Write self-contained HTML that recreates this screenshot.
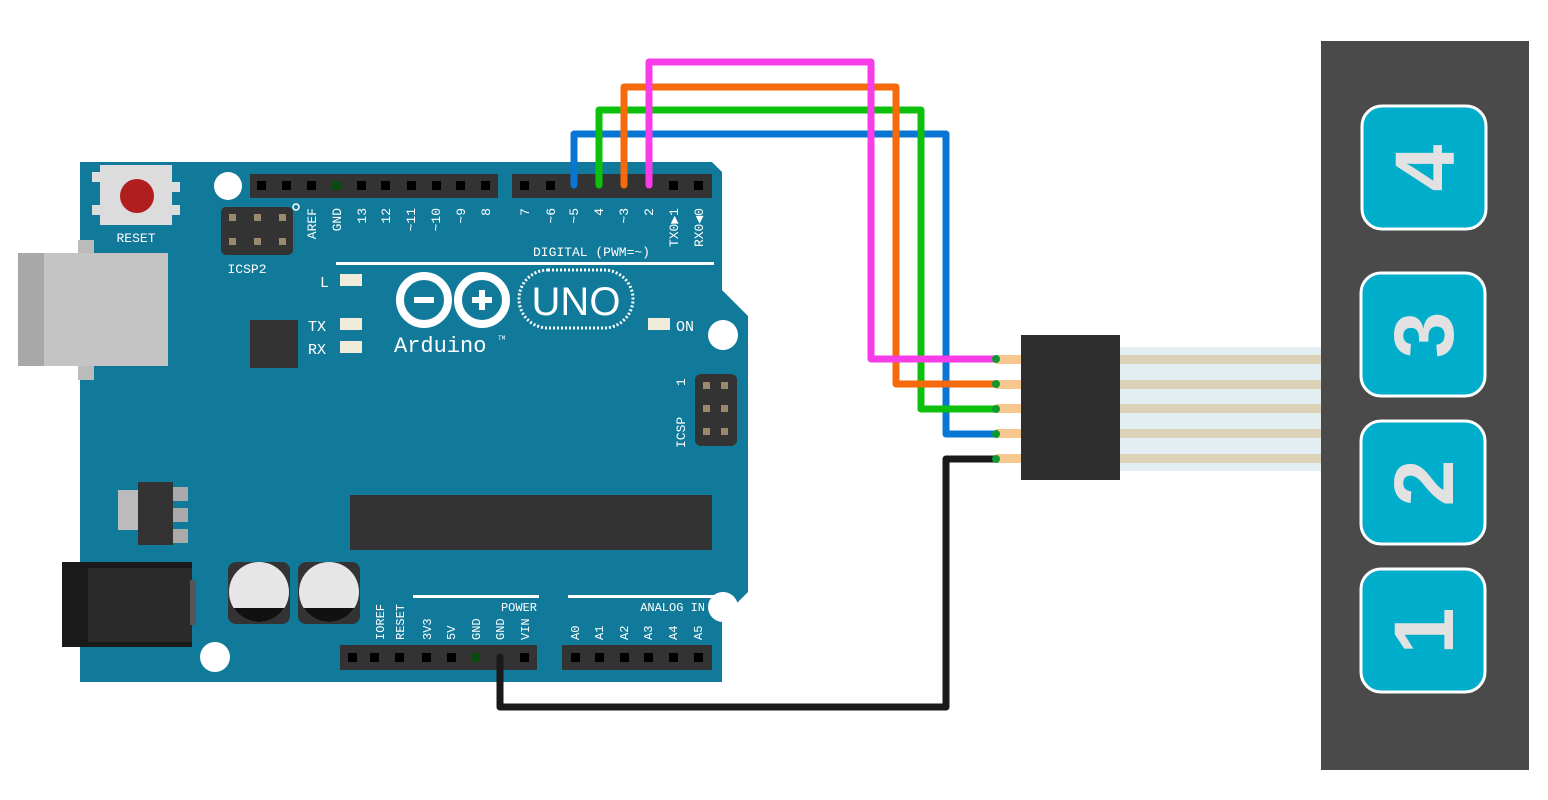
<!DOCTYPE html>
<html><head><meta charset="utf-8"><style>html,body{margin:0;padding:0;background:#fff}svg{display:block}</style></head>
<body>
<svg width="1548" height="800" viewBox="0 0 1548 800" xmlns="http://www.w3.org/2000/svg" font-family="Liberation Mono, DejaVu Sans Mono, monospace">
<rect width="1548" height="800" fill="#fff"/>
<path d="M80,162 L712,162 L722,172 L722,290 L748,316 L748,592 L722,618 L722,682 L80,682 Z" fill="#117a9a"/>
<circle cx="228" cy="186" r="14" fill="#fff"/>
<circle cx="723" cy="335" r="15" fill="#fff"/>
<circle cx="723" cy="607" r="15" fill="#fff"/>
<circle cx="215" cy="657" r="15" fill="#fff"/>
<rect x="78" y="240" width="16" height="140" fill="#bbb"/>
<rect x="18" y="253" width="150" height="113" fill="#c4c4c4"/>
<rect x="18" y="253" width="26" height="113" fill="#a8a8a8"/>
<rect x="92" y="172" width="8" height="10" fill="#ddd"/><rect x="172" y="182" width="8" height="10" fill="#ddd"/>
<rect x="92" y="205" width="8" height="10" fill="#ddd"/><rect x="172" y="205" width="8" height="10" fill="#ddd"/>
<rect x="100" y="165" width="72" height="60" fill="#dcdcdc"/>
<circle cx="137" cy="196" r="17" fill="#b01e1e"/>
<text x="136" y="242" fill="#fff" font-size="13" text-anchor="middle">RESET</text>
<rect x="221" y="207" width="72" height="48" rx="5" fill="#333"/>
<g fill="#9a8a6a"><rect x="229" y="214" width="7" height="7"/><rect x="254" y="214" width="7" height="7"/><rect x="279" y="214" width="7" height="7"/><rect x="229" y="238" width="7" height="7"/><rect x="254" y="238" width="7" height="7"/><rect x="279" y="238" width="7" height="7"/></g>
<circle cx="296" cy="207" r="3" fill="none" stroke="#fff" stroke-width="1.5"/>
<text x="247" y="273" fill="#fff" font-size="13" text-anchor="middle">ICSP2</text>
<rect x="250" y="174" width="248" height="24" fill="#333"/>
<rect x="512" y="174" width="200" height="24" fill="#333"/>
<g fill="#000">
<rect x="257" y="181" width="9" height="9"/><rect x="282" y="181" width="9" height="9"/><rect x="307" y="181" width="9" height="9"/><rect x="357" y="181" width="9" height="9"/><rect x="381" y="181" width="9" height="9"/><rect x="407" y="181" width="9" height="9"/><rect x="432" y="181" width="9" height="9"/><rect x="456" y="181" width="9" height="9"/><rect x="481" y="181" width="9" height="9"/>
<rect x="520" y="181" width="9" height="9"/><rect x="546" y="181" width="9" height="9"/><rect x="669" y="181" width="9" height="9"/><rect x="694" y="181" width="9" height="9"/>
</g>
<rect x="332" y="181" width="9" height="9" fill="#0a4a10"/>
<g fill="#fff" font-size="13">
<text transform="translate(316,208) rotate(-90)" text-anchor="end">AREF</text>
<text transform="translate(341,208) rotate(-90)" text-anchor="end">GND</text>
<text transform="translate(366,208) rotate(-90)" text-anchor="end">13</text>
<text transform="translate(390,208) rotate(-90)" text-anchor="end">12</text>
<text transform="translate(415,208) rotate(-90)" text-anchor="end">~11</text>
<text transform="translate(440,208) rotate(-90)" text-anchor="end">~10</text>
<text transform="translate(465,208) rotate(-90)" text-anchor="end">~9</text>
<text transform="translate(490,208) rotate(-90)" text-anchor="end">8</text>
<text transform="translate(529,208) rotate(-90)" text-anchor="end">7</text>
<text transform="translate(555,208) rotate(-90)" text-anchor="end">~6</text>
<text transform="translate(578,208) rotate(-90)" text-anchor="end">~5</text>
<text transform="translate(603,208) rotate(-90)" text-anchor="end">4</text>
<text transform="translate(628,208) rotate(-90)" text-anchor="end">~3</text>
<text transform="translate(653,208) rotate(-90)" text-anchor="end">2</text>
<text transform="translate(678,208) rotate(-90)" text-anchor="end">TX0▶1</text>
<text transform="translate(703,208) rotate(-90)" text-anchor="end">RX0◀0</text>
<text x="650" y="256" text-anchor="end">DIGITAL (PWM=~)</text>
</g>
<rect x="336" y="262" width="378" height="3" fill="#fff"/>
<g font-size="15" fill="#fff">
<text x="320" y="287">L</text><text x="308" y="331">TX</text><text x="308" y="354">RX</text><text x="676" y="331">ON</text>
</g>
<g fill="#f0ead8"><rect x="340" y="274" width="22" height="12"/><rect x="340" y="318" width="22" height="12"/><rect x="340" y="341" width="22" height="12"/><rect x="648" y="318" width="22" height="12"/></g>
<circle cx="424" cy="300" r="24" fill="none" stroke="#fff" stroke-width="8"/>
<circle cx="482" cy="300" r="24" fill="none" stroke="#fff" stroke-width="8"/>
<rect x="414" y="297" width="20" height="6" fill="#fff"/>
<rect x="472" y="297" width="20" height="6" fill="#fff"/><rect x="479" y="290" width="6" height="20" fill="#fff"/>
<rect x="519" y="270" width="114" height="58" rx="29" fill="none" stroke="#fff" stroke-width="3" stroke-dasharray="2 2"/>
<text x="576" y="315" font-family="Liberation Sans, sans-serif" font-size="40" fill="#fff" text-anchor="middle">UNO</text>
<text x="394" y="352" font-size="22" fill="#fff">Arduino</text>
<text x="498" y="340" font-size="6" fill="#fff">TM</text>
<rect x="250" y="320" width="48" height="48" fill="#333"/>
<rect x="695" y="374" width="42" height="72" rx="6" fill="#333"/>
<g fill="#9a8a6a"><rect x="703" y="382" width="7" height="7"/><rect x="721" y="382" width="7" height="7"/><rect x="703" y="405" width="7" height="7"/><rect x="721" y="405" width="7" height="7"/><rect x="703" y="428" width="7" height="7"/><rect x="721" y="428" width="7" height="7"/></g>
<text transform="translate(685,448) rotate(-90)" font-size="13" fill="#fff">ICSP</text>
<text transform="translate(685,386) rotate(-90)" font-size="13" fill="#fff">1</text>
<rect x="118" y="490" width="22" height="40" fill="#bbb"/>
<rect x="170" y="487" width="18" height="14" fill="#aaa"/><rect x="170" y="508" width="18" height="14" fill="#aaa"/><rect x="170" y="529" width="18" height="14" fill="#aaa"/>
<rect x="138" y="482" width="35" height="63" fill="#333"/>
<rect x="350" y="495" width="362" height="55" fill="#333"/>
<rect x="62" y="562" width="130" height="85" fill="#1a1a1a"/>
<rect x="88" y="568" width="104" height="74" fill="#2a2a2a"/>
<rect x="190" y="580" width="6" height="45" fill="#555"/>
<rect x="228" y="562" width="62" height="62" rx="8" fill="#333"/>
<rect x="298" y="562" width="62" height="62" rx="8" fill="#333"/>
<clipPath id="c1"><circle cx="259" cy="592" r="30"/></clipPath>
<clipPath id="c2"><circle cx="329" cy="592" r="30"/></clipPath>
<circle cx="259" cy="592" r="30" fill="#e6e6e6"/><rect x="228" y="608" width="62" height="20" fill="#111" clip-path="url(#c1)"/>
<circle cx="329" cy="592" r="30" fill="#e6e6e6"/><rect x="298" y="608" width="62" height="20" fill="#111" clip-path="url(#c2)"/>
<rect x="413" y="595" width="126" height="3" fill="#fff"/>
<rect x="568" y="595" width="146" height="3" fill="#fff"/>
<g fill="#fff" font-size="12">
<text x="537" y="611" text-anchor="end">POWER</text>
<text x="705" y="611" text-anchor="end">ANALOG IN</text>
<text transform="translate(384,640) rotate(-90)">IOREF</text>
<text transform="translate(404,640) rotate(-90)">RESET</text>
<text transform="translate(431,640) rotate(-90)">3V3</text>
<text transform="translate(455,640) rotate(-90)">5V</text>
<text transform="translate(480,640) rotate(-90)">GND</text>
<text transform="translate(504,640) rotate(-90)">GND</text>
<text transform="translate(529,640) rotate(-90)">VIN</text>
<text transform="translate(579,640) rotate(-90)">A0</text>
<text transform="translate(603,640) rotate(-90)">A1</text>
<text transform="translate(628,640) rotate(-90)">A2</text>
<text transform="translate(652,640) rotate(-90)">A3</text>
<text transform="translate(677,640) rotate(-90)">A4</text>
<text transform="translate(702,640) rotate(-90)">A5</text>
</g>
<rect x="340" y="645" width="197" height="25" fill="#333"/>
<rect x="562" y="645" width="150" height="25" fill="#333"/>
<g fill="#000">
<rect x="348" y="653" width="9" height="9"/><rect x="370" y="653" width="9" height="9"/><rect x="395" y="653" width="9" height="9"/><rect x="422" y="653" width="9" height="9"/><rect x="447" y="653" width="9" height="9"/><rect x="520" y="653" width="9" height="9"/>
<rect x="571" y="653" width="9" height="9"/><rect x="595" y="653" width="9" height="9"/><rect x="620" y="653" width="9" height="9"/><rect x="644" y="653" width="9" height="9"/><rect x="669" y="653" width="9" height="9"/><rect x="694" y="653" width="9" height="9"/>
</g>
<rect x="471" y="653" width="9" height="9" fill="#0a4a10"/>
<rect x="1120" y="347" width="201" height="124" fill="#e2eef2"/>
<g fill="#dcd2b8"><rect x="1120" y="355" width="201" height="9"/><rect x="1120" y="380" width="201" height="9"/><rect x="1120" y="404" width="201" height="9"/><rect x="1120" y="429" width="201" height="9"/><rect x="1120" y="454" width="201" height="9"/></g>
<g fill="#f6c890"><rect x="996" y="355" width="26" height="9"/><rect x="996" y="380" width="26" height="9"/><rect x="996" y="404" width="26" height="9"/><rect x="996" y="429" width="26" height="9"/><rect x="996" y="454" width="26" height="9"/></g>
<rect x="1021" y="335" width="99" height="145" fill="#2e2e2e"/>
<g fill="none" stroke-width="7" stroke-linejoin="round" stroke-linecap="round">
<polyline points="574,185 574,134 946,134 946,434 996,434" stroke="#0a76d4"/>
<polyline points="599,185 599,110 921,110 921,409 996,409" stroke="#0cc00c"/>
<polyline points="624,185 624,87 896,87 896,384 996,384" stroke="#f56a0a"/>
<polyline points="649,185 649,62 871,62 871,359 996,359" stroke="#f83ce8"/>
<polyline points="500,657 500,707 946,707 946,459 996,459" stroke="#1a1a1a"/>
</g>
<g fill="#0c9a30"><circle cx="996" cy="359" r="4"/><circle cx="996" cy="384" r="4"/><circle cx="996" cy="409" r="4"/><circle cx="996" cy="434" r="4"/><circle cx="996" cy="459" r="4"/></g>
<rect x="1321" y="41" width="208" height="729" fill="#4a4a4a"/>
<g fill="#00aecb" stroke="#fff" stroke-width="3">
<rect x="1362" y="106" width="124" height="123" rx="20"/>
<rect x="1361" y="273" width="124" height="123" rx="20"/>
<rect x="1361" y="421" width="124" height="123" rx="20"/>
<rect x="1361" y="569" width="124" height="123" rx="20"/>
</g>
<g fill="#e2e2e2" font-family="Liberation Sans, sans-serif" font-weight="bold" font-size="84" text-anchor="middle">
<text transform="translate(1454,168) rotate(-90)">4</text>
<text transform="translate(1453,335) rotate(-90)">3</text>
<text transform="translate(1453,483) rotate(-90)">2</text>
<text transform="translate(1453,631) rotate(-90)">1</text>
</g>
</svg>
</body></html>
